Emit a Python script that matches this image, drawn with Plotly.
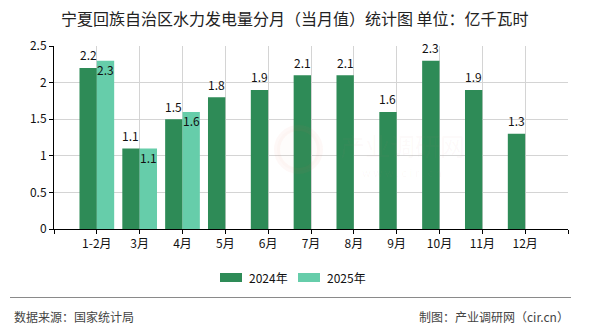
import plotly.graph_objects as go

# ---- data ----
categories = ["1-2月", "3月", "4月", "5月", "6月", "7月", "8月", "9月", "10月", "11月", "12月"]
series_names = ["2024年", "2025年"]
values_2024 = [2.2, 1.1, 1.5, 1.8, 1.9, 2.1, 2.1, 1.6, 2.3, 1.9, 1.3]
values_2025 = [2.3, 1.1, 1.6, None, None, None, None, None, None, None, None]
y_ticks = [0, 0.5, 1, 1.5, 2, 2.5]
y_ticktext = ["0", "0.5", "1", "1.5", "2", "2.5"]

title_text = "宁夏回族自治区水力发电量分月（当月值）统计图 单位：亿千瓦时"
source_text = "数据来源：国家统计局"
credit_text = "制图：产业调研网（cir.cn）"

colors = ["#2E8B57", "#66CDAA"]
FONT = "Noto Sans CJK SC"

W, H = 590, 330
L, R, T, B = 54, 22, 46, 101
pw, ph = W - L - R, H - T - B

xs = list(range(1, len(categories) + 1))
bw = 0.405

fig = go.Figure()
fig.add_trace(go.Bar(x=xs, y=values_2024, name=series_names[0], marker_color=colors[0],
                     width=bw, offset=-bw, marker_line_width=0, showlegend=False))
fig.add_trace(go.Bar(x=xs, y=values_2025, name=series_names[1], marker_color=colors[1],
                     width=bw, offset=0, marker_line_width=0, showlegend=False))

annotations = []
for x, v in zip(xs, values_2024):
    if v is not None:
        annotations.append(dict(x=x - bw / 2, y=v, xref="x", yref="y", text=f"{v:g}",
                                showarrow=False, yshift=13,
                                font=dict(family=FONT, size=12, color="#111")))
for x, v in zip(xs, values_2025):
    if v is not None:
        annotations.append(dict(x=x + bw / 2, y=v, xref="x", yref="y", text=f"{v:g}",
                                showarrow=False, yshift=-9,
                                font=dict(family=FONT, size=12, color="#111")))

def px2paper_x(px):
    return (px - L) / pw

def py2paper_y(py):
    return (H - B - py) / ph

# title
annotations.append(dict(x=px2paper_x(W / 2), y=py2paper_y(18), xref="paper", yref="paper", text=title_text,
                        showarrow=False, xanchor="center", yanchor="middle",
                        font=dict(family=FONT, size=16, color="#222")))
# footer
annotations.append(dict(x=px2paper_x(12), y=py2paper_y(316), xref="paper", yref="paper",
                        text=source_text, showarrow=False, xanchor="left", yanchor="middle",
                        font=dict(family=FONT, size=12, color="#444")))
annotations.append(dict(x=px2paper_x(571), y=py2paper_y(316), xref="paper", yref="paper",
                        text=credit_text, showarrow=False, xanchor="right", yanchor="middle",
                        font=dict(family=FONT, size=12, color="#444")))

# watermark
annotations.append(dict(x=px2paper_x(402), y=py2paper_y(145), xref="paper", yref="paper",
                        text="产业调研网", showarrow=False, xanchor="center", yanchor="middle",
                        font=dict(family=FONT, size=25, color="rgba(210,120,120,0.045)")))
annotations.append(dict(x=px2paper_x(402), y=py2paper_y(172), xref="paper", yref="paper",
                        text="w w w . c i r . c n", showarrow=False, xanchor="center", yanchor="middle",
                        font=dict(family=FONT, size=11, color="rgba(210,120,120,0.045)")))

shapes = []
# watermark logo circle
shapes.append(dict(type="circle", xref="paper", yref="paper",
                   x0=px2paper_x(277), x1=px2paper_x(320), y0=py2paper_y(171), y1=py2paper_y(128),
                   line=dict(color="rgba(230,120,100,0.05)", width=6),
                   fillcolor="rgba(230,120,100,0.025)", layer="above"))

# custom legend
leg = [(220, 242, 247), (298, 320, 325)]
for (s0, s1, tx), name, c in zip(leg, series_names, colors):
    shapes.append(dict(type="rect", xref="paper", yref="paper",
                       x0=px2paper_x(s0), x1=px2paper_x(s1),
                       y0=py2paper_y(282), y1=py2paper_y(273),
                       fillcolor=c, line=dict(width=0)))
    annotations.append(dict(x=px2paper_x(tx), y=py2paper_y(277.5), xref="paper", yref="paper",
                            text=name, showarrow=False, xanchor="left", yanchor="middle",
                            font=dict(family=FONT, size=12, color="#111")))

# separator line
shapes.append(dict(type="line", xref="paper", yref="paper",
                   x0=px2paper_x(10), x1=px2paper_x(571), y0=py2paper_y(297.5), y1=py2paper_y(297.5),
                   line=dict(color="#8a8a8a", width=1)))

fig.update_layout(
    width=W, height=H,
    margin=dict(l=L, r=R, t=T, b=B, pad=0),
    paper_bgcolor="white", plot_bgcolor="white",
    barmode="overlay",
    showlegend=False,
    annotations=annotations,
    shapes=shapes,
    font=dict(family=FONT, size=12, color="#111"),
    xaxis=dict(range=[0, len(categories) + 1],
               tickmode="array",
               tickvals=[0] + xs + [len(categories) + 1],
               ticktext=[""] + categories + [""],
               showgrid=True, gridcolor="#d4d4d4", gridwidth=1,
               showline=True, linecolor="#000", linewidth=1,
               ticks="outside", ticklen=4, tickcolor="#000",
               tickfont=dict(family=FONT, size=12, color="#111"),
               zeroline=False, fixedrange=True),
    yaxis=dict(range=[0, 2.5],
               tickmode="array", tickvals=y_ticks, ticktext=y_ticktext,
               showgrid=True, gridcolor="#d4d4d4", gridwidth=1,
               showline=True, linecolor="#000", linewidth=1,
               ticks="outside", ticklen=4, tickcolor="#000",
               tickfont=dict(family=FONT, size=12, color="#111"),
               zeroline=False, fixedrange=True),
)

fig.write_html("out.html")
